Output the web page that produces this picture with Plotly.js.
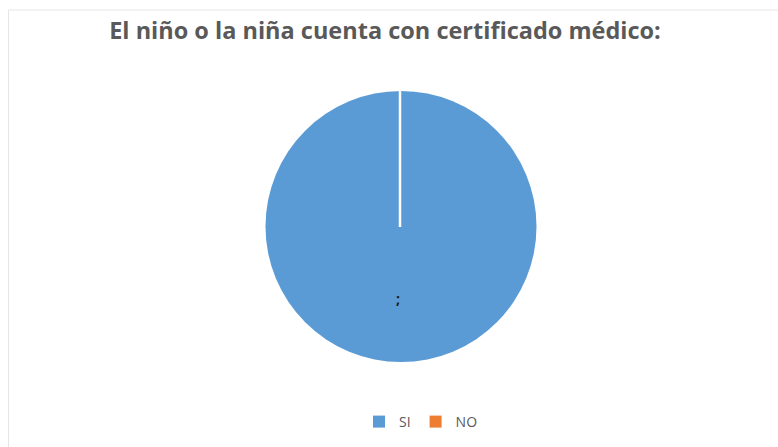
<!DOCTYPE html>
<html>
<head>
<meta charset="utf-8">
<script src="https://cdn.plot.ly/plotly-3.0.1.min.js"></script>
<style>html,body{margin:0;padding:0;background:#fff;}#chart{width:778px;height:447px;}</style>
</head>
<body>
<div id="chart"></div>
<script>
const labels = ["SI", "NO"];
const values = [100, 0];
const colors = ["#5B9BD5", "#ED7D31"];
const titleText = "El niño o la niña cuenta con certificado médico:";

const trace = {
  type: "pie",
  labels: labels,
  values: values,
  sort: false,
  direction: "clockwise",
  rotation: 0,
  marker: { colors: colors, line: { color: "#ffffff", width: 0 } },
  textinfo: "none",
  hoverinfo: "label+value",
  domain: { x: [265/778, 537/778], y: [1 - 362/447, 1 - 91/447] },
  showlegend: true
};

const layout = {
  width: 778,
  height: 447,
  margin: { l: 0, r: 0, t: 0, b: 0 },
  paper_bgcolor: "#ffffff",
  title: {
    text: "<b>" + titleText + "</b>",
    font: { family: "Open Sans, sans-serif", size: 23.5, color: "#595959" },
    x: 385/778, xanchor: "center",
    y: 1 - 31/447, yanchor: "middle"
  },
  legend: {
    orientation: "h",
    x: 421/778, xanchor: "center",
    y: 1 - 422/447, yanchor: "middle",
    font: { family: "Open Sans, sans-serif", size: 14, color: "#595959" },
    itemwidth: 30,
    traceorder: "normal"
  },
  shapes: [
    { type: "line", xref: "paper", yref: "paper",
      x0: 400/778, x1: 400/778, y0: 1 - 227/447, y1: 1 - 90/447,
      line: { color: "#ffffff", width: 2.5 } },
    { type: "rect", xref: "paper", yref: "paper",
      x0: 8.5/778, x1: 1.01, y0: -0.02, y1: 1 - 10/447,
      line: { color: "#e6e6e6", width: 1 } }
  ],
  annotations: [
    { text: "<b>;</b>", xref: "paper", yref: "paper", x: 398/778, y: 1 - 298/447,
      showarrow: false, font: { family: "Open Sans, sans-serif", size: 14, color: "#1a1a1a" } }
  ]
};

Plotly.newPlot("chart", [trace], layout, { displayModeBar: false, staticPlot: true });
</script>
</body>
</html>
